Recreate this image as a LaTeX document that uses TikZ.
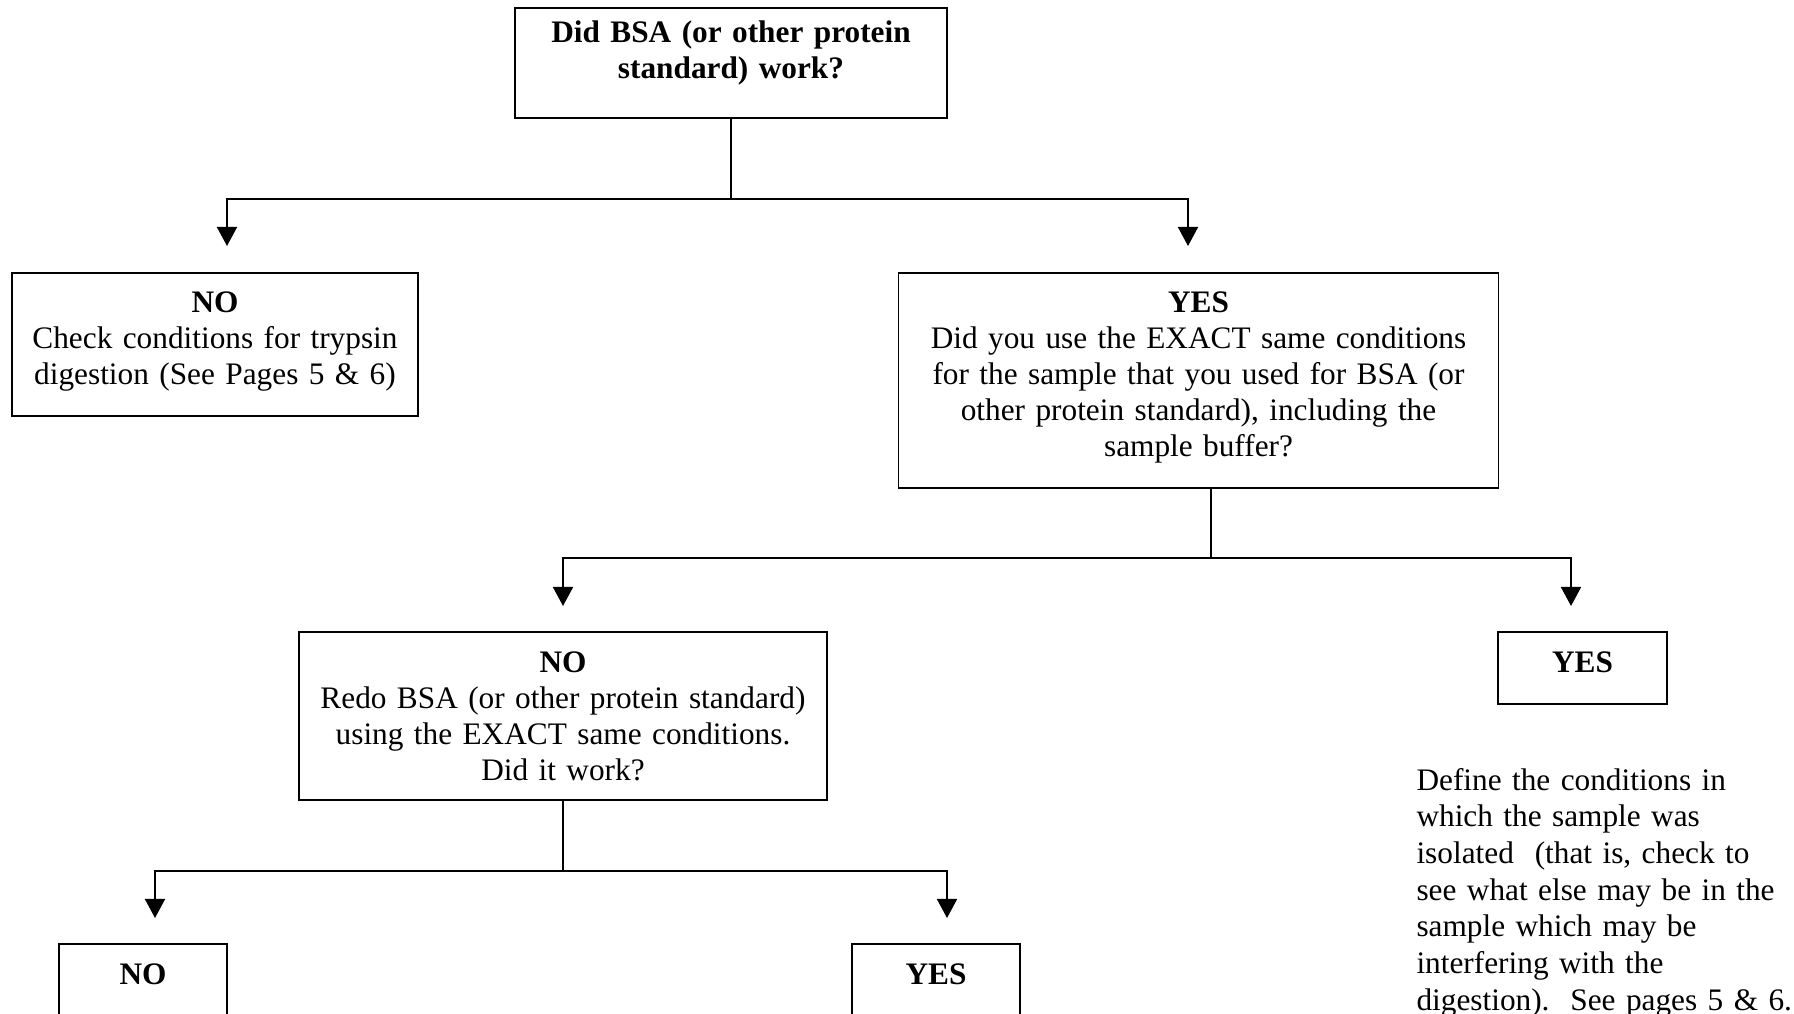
\documentclass[tikz,border=0pt]{standalone}
\usepackage{fontspec}
\setmainfont{Liberation Serif}
\usetikzlibrary{arrows.meta}

\tikzset{
  box/.style={draw, line width=0.6pt, inner sep=0pt, align=center, anchor=north,
    font=\fontsize{12pt}{13.8pt}\selectfont},
  note/.style={inner sep=0pt, align=left, anchor=base west, text width=160pt,
    font=\fontsize{12pt}{14.07pt}\selectfont\frenchspacing},
  link/.style={line width=0.6pt},
  arr/.style={link, -{Triangle[width=7.7pt,length=7.3pt]}}
}

\begin{document}
\begin{tikzpicture}[x=0.3834pt, y=-0.3834pt]
    \useasboundingbox (0,0) rectangle (1794,1014);
    \clip (0,0) rectangle (1794,1014);
    % first question
    \node[box, text width=165.6pt, text height=13.42pt, text depth=28.76pt] (bsa) at (731,7)
        {\textbf{Did BSA (or other protein}\\\textbf{standard) work?}};
    \node[box, text width=155.7pt, text height=15.34pt, text depth=39.49pt] (no1) at (215,272)
        {\textbf{NO}\\Check conditions for trypsin\\digestion (See Pages 5 \& 6)};
    \node[box, text width=230.0pt, text height=15.34pt, text depth=67.10pt] (yes1) at (1198.5,272)
        {\textbf{YES}\\Did you use the EXACT same conditions\\for the sample that you used for BSA (or\\other protein standard), including the\\sample buffer?};
    % second question
    \node[box, text width=202.4pt, text height=15.72pt, text depth=48.69pt] (no2) at (563,631)
        {\textbf{NO}\\Redo BSA (or other protein standard)\\using the EXACT same conditions.\\Did it work?};
    \node[box, text width=64.8pt, text height=15.72pt, text depth=11.89pt] (yes2) at (1582.5,631)
        {\textbf{YES}};
    \node[note] (define) at (1416,790)
        {Define the conditions in\\which the sample was\\isolated\ \ (that is, check to\\see what else may be in the\\sample which may be\\interfering with the\\digestion).\ \ See pages 5 \& 6.};
    % third level, cut by the page
    \node[box, text width=64.4pt, text height=15.72pt, text depth=41.8pt] (no3) at (143,943)
        {\textbf{NO}};
    \node[box, text width=64.4pt, text height=15.72pt, text depth=41.8pt] (yes3) at (936,943)
        {\textbf{YES}};

    % connectors
    \coordinate (j1) at (731,199);
    \coordinate (a1l) at (227,246);
    \coordinate (a1r) at (1188,246);
    \draw[link] (bsa.south) -- (j1);
    \draw[arr] (j1) -| (a1l);
    \draw[arr] (j1) -| (a1r);

    \coordinate (j2) at (1211,558);
    \coordinate (a2l) at (563,606);
    \coordinate (a2r) at (1571,606);
    \draw[link] (j2 |- yes1.south) -- (j2);
    \draw[arr] (j2) -| (a2l);
    \draw[arr] (j2) -| (a2r);

    \coordinate (j3) at (563,871);
    \coordinate (a3l) at (155,918);
    \coordinate (a3r) at (947,918);
    \draw[link] (no2.south) -- (j3);
    \draw[arr] (j3) -| (a3l);
    \draw[arr] (j3) -| (a3r);
\end{tikzpicture}
\end{document}
